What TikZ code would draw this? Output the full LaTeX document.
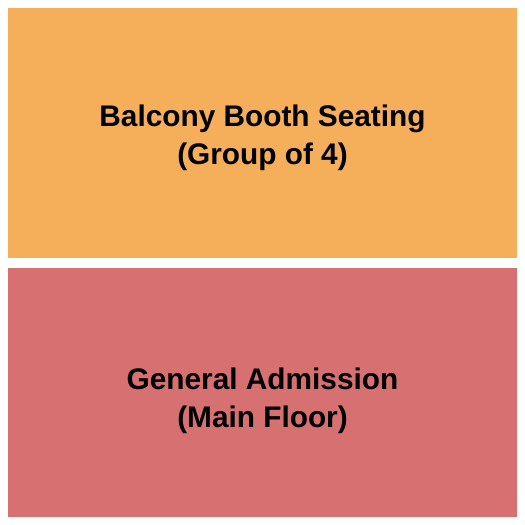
\documentclass[tikz,border=0pt]{standalone}
\usepackage{fontspec}
\setmainfont{Liberation Sans}
\definecolor{balc}{HTML}{F5AE5A}
\definecolor{ga}{HTML}{D77171}
\begin{document}
\begin{tikzpicture}[x=1pt,y=-1pt,
  lbl/.style={font=\fontsize{29.8}{38}\selectfont\bfseries, align=center, text=black}]
\useasboundingbox (0,0) rectangle (525,525);
\fill[white] (0,0) rectangle (525,525);
\fill[balc] (8,8) rectangle (517,258);
\fill[ga] (8,268) rectangle (517,517);
\coordinate (bc) at (262.5,138);
\coordinate (gc) at (262.5,401);
\node[lbl] (balcony) at (bc) {Balcony Booth Seating\\(Group of 4)};
\node[lbl] (general) at (gc) {General Admission\\(Main Floor)};
\end{tikzpicture}
\end{document}
